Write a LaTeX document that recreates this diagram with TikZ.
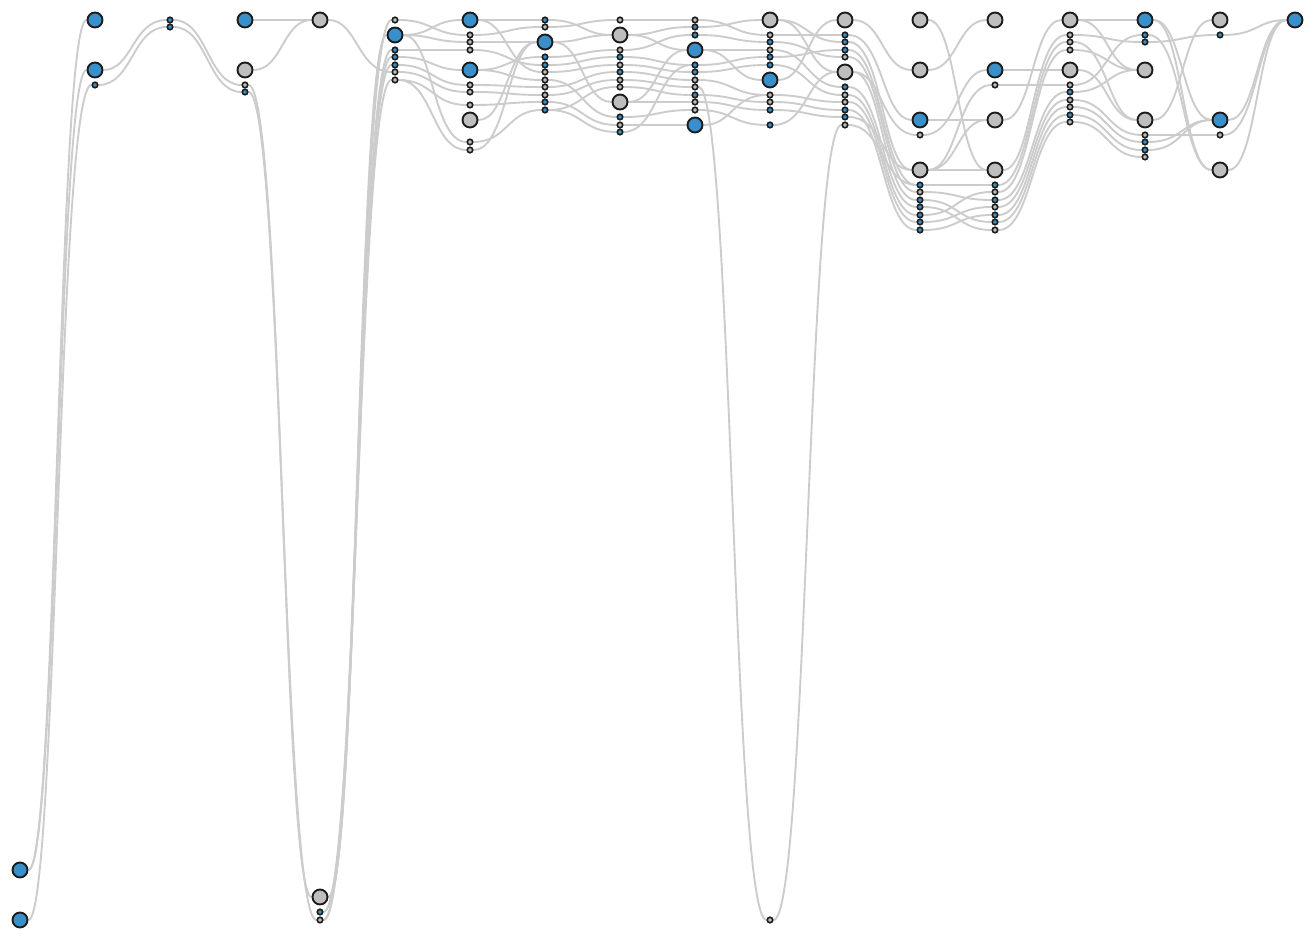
\documentclass[tikz,border=0pt]{standalone}
\usepackage{xcolor}
\usepackage{tikz}
\usetikzlibrary{calc, backgrounds}
\definecolor{nodeblue}{RGB}{57,143,201}
\definecolor{nodegray}{RGB}{190,190,190}
\definecolor{nodeline}{RGB}{28,28,28}
\definecolor{linkgray}{RGB}{204,204,204}

\tikzset{
  hub/.style={circle, draw=nodeline, line width=0.38mm, minimum size=3.0mm, inner sep=0pt},
  port/.style={circle, draw=nodeline, line width=0.32mm, minimum size=1.1mm, inner sep=0pt},
  bb/.style={hub, fill=nodeblue},
  bg/.style={hub, fill=nodegray},
  sb/.style={port, fill=nodeblue},
  sg/.style={port, fill=nodegray},
  link/.style={draw=linkgray, line width=0.38mm,
    to path={let \p1=(\tikztostart), \p2=(\tikztotarget) in
      (\tikztostart) .. controls ({0.5*\x1+0.5*\x2},\y1) and ({0.5*\x1+0.5*\x2},\y2) .. (\tikztotarget)}}
}

\begin{document}
\begin{tikzpicture}[x=0.2mm, y=-0.2mm]
			\useasboundingbox (0,0) rectangle (1315,940);
			% columns of hubs and ports
			\foreach \y/\s in {870/bb, 920/bb} \node[\s] (c0-\y) at (20,\y) {};
			\foreach \y/\s in {20/bb, 70/bb, 85/sb} \node[\s] (c1-\y) at (95,\y) {};
			\foreach \y/\s in {20/sb, 27/sb} \node[\s] (c2-\y) at (170,\y) {};
			\foreach \y/\s in {20/bb, 70/bg, 85/sg, 92/sb} \node[\s] (c3-\y) at (245,\y) {};
			\foreach \y/\s in {20/bg, 897/bg, 912/sb, 920/sg} \node[\s] (c4-\y) at (320,\y) {};
			\foreach \y/\s in {20/sg, 35/bb, 50/sb, 57/sb, 65/sb, 72/sg, 80/sg} \node[\s] (c5-\y) at (395,\y) {};
			\foreach \y/\s in {20/bb, 35/sg, 42/sg, 50/sg, 70/bb, 85/sg, 92/sg, 105/sg, 120/bg, 142/sg, 150/sg} \node[\s] (c6-\y) at (470,\y) {};
			\foreach \y/\s in {20/sb, 27/sg, 42/bb, 57/sb, 65/sb, 72/sg, 80/sg, 87/sg, 95/sg, 102/sb, 110/sb} \node[\s] (c7-\y) at (545,\y) {};
			\foreach \y/\s in {20/sg, 35/bg, 50/sg, 57/sb, 65/sg, 72/sb, 80/sg, 87/sg, 102/bg, 117/sb, 125/sg, 132/sb} \node[\s] (c8-\y) at (620,\y) {};
			\foreach \y/\s in {20/sg, 27/sb, 35/sb, 50/bb, 65/sb, 72/sb, 80/sg, 87/sg, 95/sb, 102/sg, 110/sg, 125/bb} \node[\s] (c9-\y) at (695,\y) {};
			\foreach \y/\s in {20/bg, 35/sg, 42/sb, 50/sg, 57/sb, 65/sb, 80/bb, 95/sg, 102/sg, 110/sb, 125/sb, 920/sg} \node[\s] (c10-\y) at (770,\y) {};
			\foreach \y/\s in {20/bg, 35/sb, 42/sb, 50/sb, 57/sg, 72/bg, 87/sb, 95/sg, 102/sg, 110/sb, 117/sb, 125/sg} \node[\s] (c11-\y) at (845,\y) {};
			\foreach \y/\s in {20/bg, 70/bg, 120/bb, 135/sg, 170/bg, 185/sb, 192/sg, 200/sb, 207/sb, 215/sb, 222/sb, 230/sb} \node[\s] (c12-\y) at (920,\y) {};
			\foreach \y/\s in {20/bg, 70/bb, 85/sg, 120/bg, 170/bg, 185/sb, 192/sg, 200/sb, 207/sg, 215/sb, 222/sb, 230/sg} \node[\s] (c13-\y) at (995,\y) {};
			\foreach \y/\s in {20/bg, 35/sg, 42/sg, 50/sg, 70/bg, 85/sg, 92/sb, 100/sg, 107/sg, 115/sb, 122/sg} \node[\s] (c14-\y) at (1070,\y) {};
			\foreach \y/\s in {20/bb, 35/sb, 42/sb, 70/bg, 120/bg, 135/sg, 142/sb, 150/sb, 157/sg} \node[\s] (c15-\y) at (1145,\y) {};
			\foreach \y/\s in {20/bg, 35/sb, 120/bb, 135/sg, 170/bg} \node[\s] (c16-\y) at (1220,\y) {};
			\node[bb] (c17-20) at (1295,20) {};
			% links
			\begin{scope}[on background layer]
			\foreach \a/\b in {c0-870/c1-20, c0-870/c1-70, c0-920/c1-85,
			  c1-70/c2-20, c1-85/c2-27, c2-20/c3-85, c2-27/c3-92,
			  c3-20/c4-20, c3-70/c4-20, c3-85/c4-897, c3-92/c4-920,
			  c4-20/c5-72, c4-897/c5-20, c4-897/c5-35, c4-897/c5-50, c4-912/c5-57, c4-920/c5-65, c4-920/c5-80,
			  c5-20/c6-35, c5-35/c6-20, c5-35/c6-42, c5-35/c6-142, c5-50/c6-50, c5-57/c6-70, c5-65/c6-85, c5-72/c6-92, c5-80/c6-105, c5-80/c6-150,
			  c6-20/c7-20, c6-20/c7-72, c6-35/c7-27, c6-42/c7-42, c6-50/c7-65, c6-70/c7-57, c6-70/c7-80, c6-85/c7-87, c6-92/c7-95, c6-105/c7-102, c6-120/c7-42, c6-142/c7-110, c6-150/c7-42,
			  c7-20/c8-35, c7-27/c8-20, c7-42/c8-35, c7-42/c8-102, c7-57/c8-50, c7-65/c8-57, c7-72/c8-65, c7-80/c8-117, c7-87/c8-72, c7-95/c8-80, c7-102/c8-125, c7-110/c8-132, c7-110/c8-87,
			  c8-20/c9-20, c8-35/c9-27, c8-35/c9-50, c8-50/c9-35, c8-57/c9-65, c8-65/c9-72, c8-72/c9-80, c8-80/c9-87, c8-87/c9-95, c8-102/c9-50, c8-102/c9-102, c8-117/c9-110, c8-125/c9-125, c8-132/c9-65,
			  c9-20/c10-35, c9-27/c10-20, c9-35/c10-42, c9-50/c10-50, c9-50/c10-80, c9-65/c10-57, c9-72/c10-65, c9-80/c10-95, c9-87/c10-920, c9-95/c10-102, c9-102/c10-110, c9-110/c10-125, c9-125/c10-95,
			  c10-20/c11-42, c10-20/c11-72, c10-35/c11-35, c10-42/c11-57, c10-50/c11-87, c10-57/c11-50, c10-65/c11-95, c10-80/c11-20, c10-95/c11-102, c10-102/c11-110, c10-110/c11-117, c10-125/c11-72, c10-920/c11-125,
			  c11-20/c12-70, c11-35/c12-120, c11-42/c12-170, c11-50/c12-185, c11-57/c12-192, c11-72/c12-135, c11-72/c12-200, c11-87/c12-207, c11-95/c12-215, c11-102/c12-222, c11-110/c12-230, c11-117/c12-170, c11-125/c12-185,
			  c12-20/c13-170, c12-70/c13-20, c12-120/c13-120, c12-135/c13-70, c12-170/c13-85, c12-170/c13-120, c12-170/c13-170, c12-185/c13-185, c12-192/c13-200, c12-200/c13-222, c12-207/c13-230, c12-215/c13-192, c12-222/c13-207, c12-230/c13-215,
			  c13-70/c14-70, c13-85/c14-85, c13-120/c14-20, c13-170/c14-35, c13-185/c14-42, c13-192/c14-50, c13-200/c14-92, c13-207/c14-100, c13-215/c14-107, c13-222/c14-115, c13-230/c14-122,
			  c14-20/c15-20, c14-20/c15-70, c14-35/c15-42, c14-42/c15-120, c14-50/c15-70, c14-70/c15-120, c14-85/c15-35, c14-92/c15-70, c14-100/c15-135, c14-107/c15-142, c14-115/c15-150, c14-122/c15-157,
			  c15-20/c16-120, c15-20/c16-170, c15-35/c16-170, c15-42/c16-35, c15-120/c16-20, c15-135/c16-135, c15-142/c16-120, c15-150/c16-120,
			  c16-35/c17-20, c16-120/c17-20, c16-135/c17-20, c16-170/c17-20}
			  \draw[link] (\a) to (\b);
			\end{scope}
\end{tikzpicture}
\end{document}
